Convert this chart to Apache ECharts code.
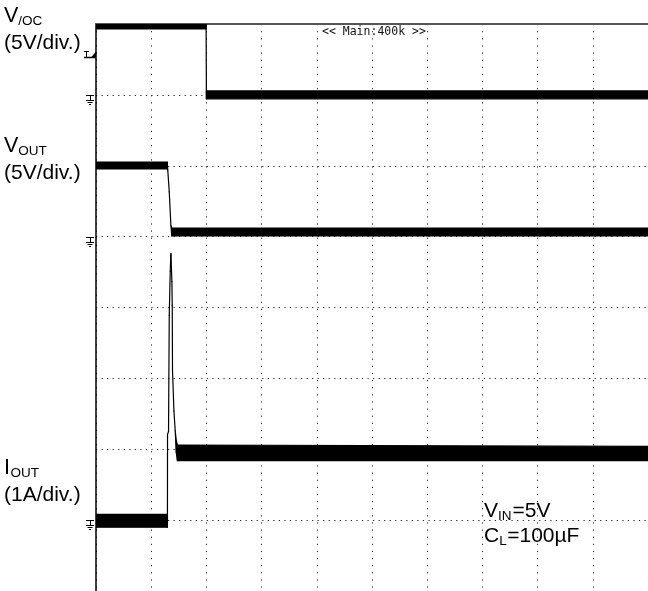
<!DOCTYPE html>
<html><head><meta charset="utf-8">
<script src="https://cdn.jsdelivr.net/npm/echarts@6/dist/echarts.min.js"></script>
<style>html,body{margin:0;padding:0;background:#fff;}#c{width:648px;height:591px;}</style>
</head><body><div id="c"></div>
<script>
// ---- time axis: screen divisions (10 div across) ----
const xTicks = [0, 1, 2, 3, 4, 5, 6, 7, 8, 9, 10];

// ---- CH1: V/OC (volts), noise envelope lo/hi ----
const vocT  = [0, 1.995, 2.0, 10];
const vocLo = [4.65, 4.65, -0.28, -0.28];
const vocHi = [5.0, 5.0, 0.28, 0.28];

// ---- CH2: VOUT (volts) ----
const voutT  = [0, 1.29, 1.30, 1.327, 1.357, 1.375, 10];
const voutLo = [4.77, 4.77, 4.7, 3.16, 0.77, 0.05, 0.05];
const voutHi = [5.26, 5.26, 4.7, 3.16, 0.77, 0.6, 0.6];

// ---- CH3: IOUT (amps) ----
const ioutT  = [0, 1.294, 1.296, 1.314, 1.327, 1.345, 1.357, 1.375, 1.381, 1.386, 1.412, 1.435, 1.455, 1.475, 10];
const ioutLo = [-0.1, -0.1, 1.21, 1.25, 2.89, 3.51, 3.76, 3.37, 3.03, 2.11, 1.54, 1.26, 0.95, 0.84, 0.84];
const ioutHi = [0.08, 0.08, 1.21, 1.25, 2.89, 3.51, 3.76, 3.37, 3.03, 2.11, 1.54, 1.26, 1.12, 1.06, 1.04];

// ---- channel scales (per division) and ground positions ----
const chScale = [5, 5, 1];          // V/div, V/div, A/div
const chGroundDiv = [7, 5, 1];      // ground level in divisions from bottom
const triggerLevel = 2.7;           // CH1 trigger level (V)

const labelMain = ['V', 'V', 'I'];
const labelSub  = ['/OC', 'OUT', 'OUT'];
const labelScale = ['(5V/div.)', '(5V/div.)', '(1A/div.)'];
const noteLines = [['V', 'IN', '=5V'], ['C', 'L', '=100µF']];
const headerText = '<< Main:400k >>';

const DIVS_Y = 8;
const chart = echarts.init(document.getElementById('c'), null, {renderer: 'canvas'});

function yAxisFor(i, show) {
  const s = chScale[i], g = chGroundDiv[i];
  return {
    type: 'value', min: -g * s, max: (DIVS_Y - g) * s, interval: s,
    show: show, position: 'left',
    axisLine: {show: show, onZero: false, lineStyle: {color: '#000', width: 1.5}},
    axisTick: {show: false}, axisLabel: {show: false},
    splitLine: {show: show, lineStyle: {color: '#222', width: 1, type: [1.2, 4.34]}}
  };
}

// band: filled noise envelope between lo and hi, segment by segment
function band(name, t, lo, hi, yIdx) {
  const data = [];
  for (let k = 1; k < t.length; k++) {
    data.push([t[k - 1], lo[k - 1], hi[k - 1], t[k], lo[k], hi[k]]);
  }
  return {
    name: name, type: 'custom', coordinateSystem: 'cartesian2d',
    xAxisIndex: 0, yAxisIndex: yIdx, clip: true, silent: true, z: 5,
    encode: {x: [0, 3], y: [1, 2, 4, 5]},
    data: data,
    renderItem: function (params, api) {
      const a0 = api.coord([api.value(0), api.value(1)]);
      const b0 = api.coord([api.value(3), api.value(4)]);
      const b1 = api.coord([api.value(3), api.value(5)]);
      const a1 = api.coord([api.value(0), api.value(2)]);
      return {
        type: 'polygon',
        shape: {points: [a0, b0, b1, a1]},
        style: {fill: '#000', stroke: '#000', lineWidth: 1.2, lineJoin: 'round'}
      };
    }
  };
}

const font = '"Liberation Sans", Arial, sans-serif';

chart.setOption({
  animation: false,
  backgroundColor: '#fff',
  grid: {left: 96, top: 24, width: 554, height: 570, containLabel: false},
  xAxis: {
    type: 'value', min: xTicks[0], max: xTicks[xTicks.length - 1], interval: 1,
    position: 'top',
    axisLine: {show: true, onZero: false, lineStyle: {color: '#555', width: 2}},
    axisTick: {show: false}, axisLabel: {show: false},
    splitLine: {show: true, lineStyle: {color: '#222', width: 1, type: [1.2, 5.92]}}
  },
  yAxis: [yAxisFor(0, true), yAxisFor(1, false), yAxisFor(2, false)],
  series: [
    band('VOC', vocT, vocLo, vocHi, 0),
    band('VOUT', voutT, voutLo, voutHi, 1),
    band('IOUT', ioutT, ioutLo, ioutHi, 2)
  ]
});

// ---- annotations ----
const x0 = chart.convertToPixel({xAxisIndex: 0}, 0);
const g = [];
function groundMarker(y) {
  y = Math.round(y) + 0.5;
  const st = {stroke: '#000', lineWidth: 1};
  return {type: 'group', children: [
    {type: 'line', shape: {x1: x0 - 10, y1: y, x2: x0 - 2, y2: y}, style: st},
    {type: 'line', shape: {x1: x0 - 5.5, y1: y, x2: x0 - 5.5, y2: y + 5}, style: st},
    {type: 'line', shape: {x1: x0 - 10, y1: y + 5, x2: x0 - 2, y2: y + 5}, style: st},
    {type: 'line', shape: {x1: x0 - 8.5, y1: y + 7, x2: x0 - 3.5, y2: y + 7}, style: st},
    {type: 'line', shape: {x1: x0 - 7, y1: y + 9, x2: x0 - 5, y2: y + 9}, style: st}
  ]};
}
for (let i = 0; i < 3; i++) {
  g.push(groundMarker(chart.convertToPixel({yAxisIndex: i}, 0)));
}
// trigger level marker
const ty = Math.round(chart.convertToPixel({yAxisIndex: 0}, triggerLevel)) + 0.5;
g.push({type: 'group', children: [
  {type: 'line', shape: {x1: x0 - 12, y1: ty, x2: x0, y2: ty}, style: {stroke: '#000', lineWidth: 1.5}},
  {type: 'line', shape: {x1: x0 - 12, y1: ty - 6, x2: x0 - 7, y2: ty - 6}, style: {stroke: '#000', lineWidth: 1}},
  {type: 'line', shape: {x1: x0 - 9.5, y1: ty - 6, x2: x0 - 9.5, y2: ty}, style: {stroke: '#000', lineWidth: 1}},
  {type: 'polygon', shape: {points: [[x0, ty - 6], [x0, ty], [x0 - 5, ty]]}, style: {fill: '#000'}}
]});

// channel labels
const labelTop = [5, 135, 457];
for (let i = 0; i < 3; i++) {
  const t0 = labelTop[i];
  const mainW = labelMain[i] === 'I' ? 6.5 : 14.3;
  g.push({type: 'text', left: 4, top: t0, style: {text: labelMain[i], font: '21.5px ' + font, fill: '#000'}});
  g.push({type: 'text', left: 4 + mainW, top: t0 + 9, style: {text: labelSub[i], font: '13.5px ' + font, fill: '#000'}});
  g.push({type: 'text', left: 4, top: t0 + 28, style: {text: labelScale[i], font: '21px ' + font, fill: '#000'}});
}
// conditions note
const noteTop = [501, 526];
for (let k = 0; k < 2; k++) {
  const [a, sub, rest] = noteLines[k];
  const aw = a === 'V' ? 14 : 15.2;
  const sw = sub === 'IN' ? 14.5 : 8;
  g.push({type: 'text', left: 484, top: noteTop[k], style: {text: a, font: '21px ' + font, fill: '#000'}});
  g.push({type: 'text', left: 484 + aw, top: noteTop[k] + 8, style: {text: sub, font: '13.5px ' + font, fill: '#000'}});
  g.push({type: 'text', left: 484 + aw + sw, top: noteTop[k], style: {text: rest, font: '21px ' + font, fill: '#000'}});
}
// header
g.push({type: 'text', left: 322, top: 26, style: {text: headerText, font: '11.5px "DejaVu Sans Mono", monospace', fill: '#111'}});

chart.setOption({graphic: g});
</script>
</body></html>
